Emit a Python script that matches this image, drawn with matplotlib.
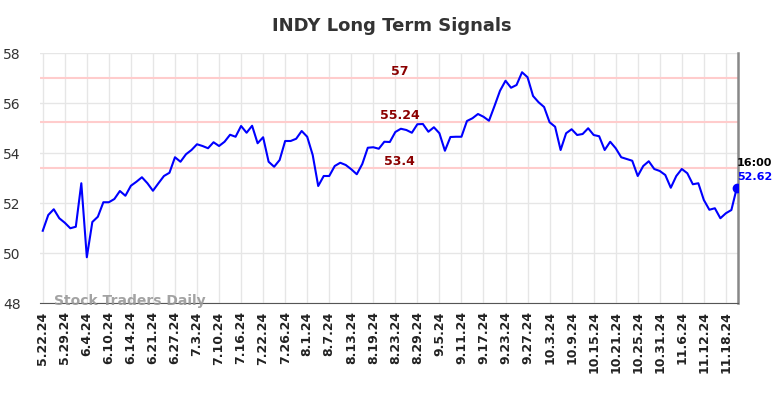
import matplotlib.pyplot as plt

# Daily closing signal values
values = [
    50.89, 51.52, 51.75, 51.39, 51.21, 50.99, 51.05, 52.79, 49.83, 51.24,
    51.45, 52.03, 52.03, 52.16, 52.48, 52.29, 52.69, 52.85, 53.03, 52.79,
    52.49, 52.79, 53.08, 53.21, 53.83, 53.65, 53.95, 54.12, 54.35, 54.28,
    54.19, 54.43, 54.28, 54.45, 54.73, 54.65, 55.08, 54.81, 55.09, 54.39,
    54.63, 53.65, 53.45, 53.72,
    54.48, 54.48, 54.57, 54.88, 54.65, 53.92, 52.68, 53.08, 53.08, 53.48,
    53.61, 53.52, 53.35, 53.15, 53.56, 54.21, 54.23, 54.17, 54.45, 54.44,
    54.84, 54.97, 54.92, 54.81, 55.15, 55.16, 54.85, 55.03, 54.79, 54.09,
    54.64, 54.65, 54.65, 55.28, 55.39, 55.56, 55.45, 55.29, 55.88, 56.49,
    56.89, 56.61, 56.72,
    57.23, 57.03, 56.28, 56.03, 55.84, 55.23, 55.05, 54.12, 54.79, 54.95,
    54.72, 54.76, 54.99, 54.72, 54.67, 54.12, 54.45, 54.19, 53.83, 53.76,
    53.69, 53.08, 53.48, 53.67, 53.36, 53.28, 53.12, 52.61, 53.08, 53.36,
    53.19, 52.75, 52.79, 52.12, 51.73, 51.79, 51.39, 51.59, 51.72, 52.62,
]

tick_labels = [
    '5.22.24', '5.29.24', '6.4.24', '6.10.24', '6.14.24', '6.21.24', '6.27.24',
    '7.3.24', '7.10.24', '7.16.24', '7.22.24', '7.26.24', '8.1.24', '8.7.24',
    '8.13.24', '8.19.24', '8.23.24', '8.29.24', '9.5.24', '9.11.24', '9.17.24',
    '9.23.24', '9.27.24', '10.3.24', '10.9.24', '10.15.24', '10.21.24',
    '10.25.24', '10.31.24', '11.6.24', '11.12.24', '11.18.24',
]

levels = [57, 55.24, 53.4]
level_labels = ['57', '55.24', '53.4']

x = list(range(len(values)))
tick_pos = [i * 4 for i in range(len(tick_labels))]

fig = plt.figure(figsize=(7.84, 3.98), dpi=100)
ax = fig.add_axes([40 / 784, 1 - 303 / 398, 698 / 784, 250 / 398])

# Grid and axes styling
ax.grid(True, color='#e6e6e6', linewidth=1)
ax.set_axisbelow(True)
for side in ['top', 'left']:
    ax.spines[side].set_visible(False)
ax.spines['bottom'].set_color('#555555')
ax.spines['right'].set_color('#888888')
ax.spines['right'].set_linewidth(1.8)

# Signal levels
for lvl, lab in zip(levels, level_labels):
    ax.axhline(lvl, color='#ffcccc', linewidth=1.5, zorder=1)
    ax.text(64.8, lvl + 0.27, lab, color='#8b0000', fontsize=9,
            fontweight='bold', ha='center', va='center')

# Price line
ax.plot(x, values, color='#0000ff', linewidth=1.5, zorder=3)
ax.plot(x[-1], values[-1], 'o', color='#0000ff', markersize=6, zorder=4)
ax.text(x[-1], values[-1] + 0.99, '16:00', color='black', fontsize=8,
        fontweight='bold', ha='left', va='center')
ax.text(x[-1], values[-1] + 0.43, f'{values[-1]:.2f}', color='#0000ff',
        fontsize=8, fontweight='bold', ha='left', va='center')

ax.set_xlim(-0.5, len(values) - 0.8)
ax.set_ylim(48, 58)
ax.set_yticks([48, 50, 52, 54, 56, 58])
ax.set_xticks(tick_pos)
ax.set_xticklabels(tick_labels, rotation=90, fontsize=9, fontweight='bold',
                   color='#222222')
ax.tick_params(axis='y', labelsize=10, colors='#333333', length=0, pad=14)
ax.tick_params(axis='x', length=0, pad=6)

# Watermark
ax.text(2, 48.1, 'Stock Traders Daily', color='#999999', fontsize=10,
        fontweight='bold', ha='left', va='center', alpha=0.9)

fig.suptitle('INDY Long Term Signals', fontsize=13, fontweight='bold',
             color='#333333', y=1 - 26 / 398, va='center')

plt.savefig('out.png')
